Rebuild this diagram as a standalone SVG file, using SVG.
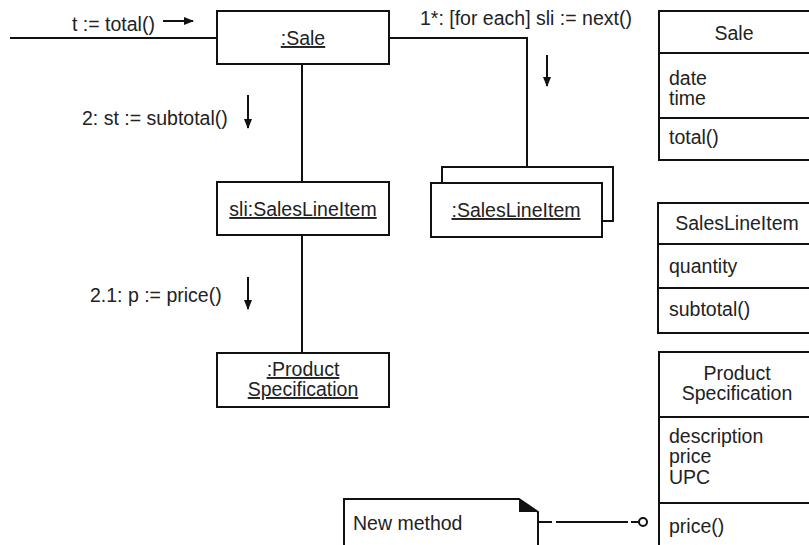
<svg xmlns="http://www.w3.org/2000/svg" width="809" height="545" viewBox="0 0 809 545">
  <style>
    .box { fill: #fff; stroke: #111; stroke-width: 2; }
    .ln { fill: none; stroke: #111; stroke-width: 2; }
    .t { font-family: "Liberation Sans", Arial, sans-serif; font-size: 19.5px; fill: #222; }
    .c { text-anchor: middle; }
    .u { text-decoration: underline; }
  </style>
  <defs>
    <marker id="ah" viewBox="0 0 10 10" refX="9" refY="5" markerWidth="10" markerHeight="10" markerUnits="userSpaceOnUse" orient="auto">
      <path d="M0,1 L10,5 L0,9 Z" fill="#111"/>
    </marker>
  </defs>

  <!-- links between objects -->
  <g id="connectors">
    <line class="ln" x1="10" y1="38" x2="217" y2="38"/>
    <polyline class="ln" points="389,38 527,38 527,167"/>
    <line class="ln" x1="302" y1="64" x2="302" y2="182"/>
    <line class="ln" x1="302" y1="235" x2="302" y2="353"/>
    <!-- note anchor -->
    <path class="ln" d="M538,522 H552 M556,522 H628 M631,522 H639"/>
    <circle cx="643" cy="522" r="4" fill="#fff" stroke="#111" stroke-width="2"/>
  </g>

  <!-- message labels with direction arrows -->
  <g id="messages">
    <text class="t" x="72" y="31">t := total()</text>
    <line class="ln" x1="163" y1="21" x2="193" y2="21" marker-end="url(#ah)"/>
    <text class="t" x="82" y="125">2: st := subtotal()</text>
    <line class="ln" x1="248" y1="95" x2="248" y2="128" marker-end="url(#ah)"/>
    <text class="t" x="90" y="302">2.1: p := price()</text>
    <line class="ln" x1="248" y1="277" x2="248" y2="309" marker-end="url(#ah)"/>
    <text class="t" x="420" y="25">1*: [for each] sli := next()</text>
    <line class="ln" x1="547" y1="55" x2="547" y2="86" marker-end="url(#ah)"/>
  </g>

  <!-- collaboration objects -->
  <g id="obj-sale">
    <rect class="box" x="217" y="11" width="172" height="53"/>
    <text class="t c u" x="303" y="45">:Sale</text>
  </g>
  <g id="obj-sli">
    <rect class="box" x="217" y="182" width="172" height="53"/>
    <text class="t c u" x="303" y="216">sli:SalesLineItem</text>
  </g>
  <g id="obj-saleslineitems">
    <rect class="box" x="442" y="167" width="171" height="54"/>
    <rect class="box" x="431" y="183" width="171" height="54"/>
    <text class="t c u" x="516" y="217">:SalesLineItem</text>
  </g>
  <g id="obj-productspec">
    <rect class="box" x="217" y="353" width="172" height="54"/>
    <text class="t c u" x="303" y="376">:Product</text>
    <text class="t c u" x="303" y="396">Specification</text>
  </g>

  <!-- class boxes -->
  <g id="cls-sale">
    <rect class="box" x="659" y="11" width="160" height="149"/>
    <line class="ln" x1="659" y1="53" x2="809" y2="53"/>
    <line class="ln" x1="659" y1="118" x2="809" y2="118"/>
    <text class="t c" x="734" y="40">Sale</text>
    <text class="t" x="669" y="85">date</text>
    <text class="t" x="669" y="105">time</text>
    <text class="t" x="669" y="144">total()</text>
  </g>
  <g id="cls-saleslineitem">
    <rect class="box" x="658" y="203" width="161" height="130"/>
    <line class="ln" x1="658" y1="244" x2="809" y2="244"/>
    <line class="ln" x1="658" y1="288" x2="809" y2="288"/>
    <text class="t c" x="737" y="230">SalesLineItem</text>
    <text class="t" x="669" y="273">quantity</text>
    <text class="t" x="669" y="316">subtotal()</text>
  </g>
  <g id="cls-productspec">
    <rect class="box" x="659" y="352" width="160" height="210"/>
    <line class="ln" x1="659" y1="417" x2="809" y2="417"/>
    <line class="ln" x1="659" y1="503" x2="809" y2="503"/>
    <text class="t c" x="737" y="380">Product</text>
    <text class="t c" x="737" y="400">Specification</text>
    <text class="t" x="669" y="443">description</text>
    <text class="t" x="669" y="463">price</text>
    <text class="t" x="669" y="484">UPC</text>
    <text class="t" x="669" y="533">price()</text>
  </g>

  <!-- note -->
  <g id="note">
    <path class="box" d="M344,560 V499 H519 L538,512 V560"/>
    <path d="M519,499 L519,512 L538,512 Z" fill="#111"/>
    <text class="t" x="353" y="530">New method</text>
  </g>
</svg>
